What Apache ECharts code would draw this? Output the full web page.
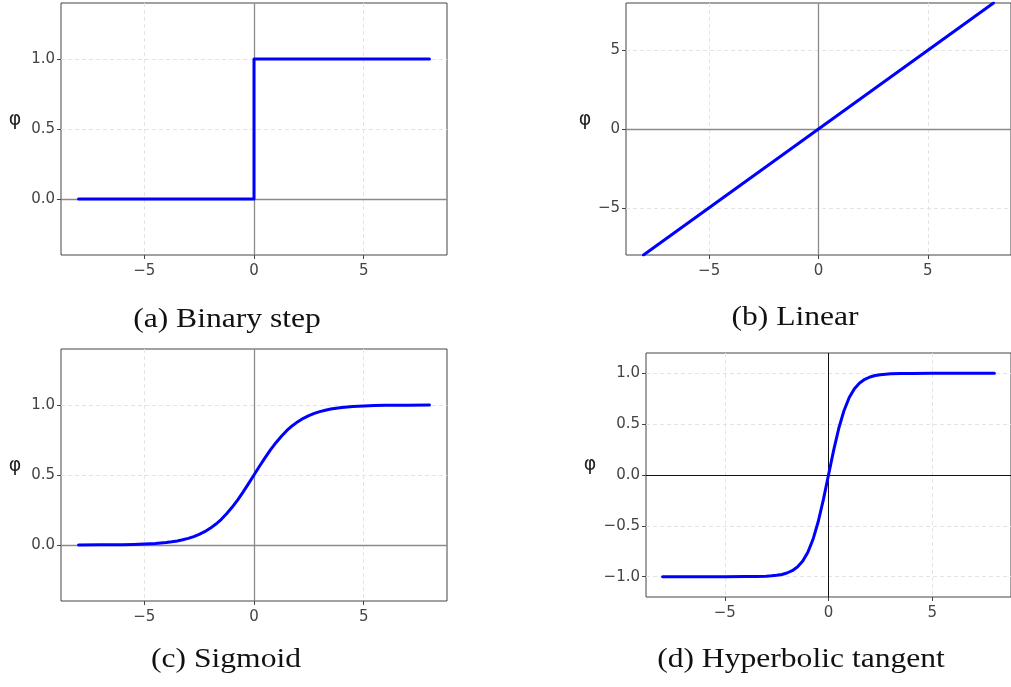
<!DOCTYPE html>
<html>
<head>
<meta charset="utf-8">
<script src="https://cdn.jsdelivr.net/npm/echarts@6/dist/echarts.min.js"></script>
<style>html,body{margin:0;padding:0;background:#fff;}#c{width:1011px;height:687px;}</style>
</head>
<body>
<div id="c"></div>
<script>
// ---- data ----
const stepX = [-8, 0, 0, 8];
const stepY = [0, 0, 1, 1];

const linearX = [-8, 8];
const linearY = [-8, 8];

const sigmoidX = [-8,-7,-6,-5.5,-5,-4.5,-4,-3.75,-3.5,-3.25,-3,-2.75,-2.5,-2.25,-2,-1.75,-1.5,-1.25,-1,-0.75,-0.5,-0.25,0,0.25,0.5,0.75,1,1.25,1.5,1.75,2,2.25,2.5,2.75,3,3.25,3.5,3.75,4,4.5,5,5.5,6,7,8];
const sigmoidY = [0.000,0.001,0.002,0.004,0.007,0.011,0.018,0.023,0.029,0.037,0.047,0.060,0.076,0.095,0.119,0.148,0.182,0.223,0.269,0.321,0.378,0.438,0.500,0.562,0.622,0.679,0.731,0.777,0.818,0.852,0.881,0.905,0.924,0.940,0.953,0.963,0.971,0.977,0.982,0.989,0.993,0.996,0.998,0.999,1.000];

const tanhX = [-8,-7,-6,-5,-4,-3.5,-3,-2.75,-2.5,-2.25,-2,-1.75,-1.5,-1.25,-1,-0.75,-0.5,-0.25,0,0.25,0.5,0.75,1,1.25,1.5,1.75,2,2.25,2.5,2.75,3,3.5,4,5,6,7,8];
const tanhY = [-1.000,-1.000,-1.000,-1.000,-0.999,-0.998,-0.995,-0.992,-0.987,-0.978,-0.964,-0.941,-0.905,-0.848,-0.762,-0.635,-0.462,-0.245,0,0.245,0.462,0.635,0.762,0.848,0.905,0.941,0.964,0.978,0.987,0.992,0.995,0.998,0.999,1.000,1.000,1.000,1.000];

const xTicks = [-5, 0, 5];
const yTicksUnit = [0, 0.5, 1];
const yTicksLinear = [-5, 0, 5];
const yTicksTanh = [-1, -0.5, 0, 0.5, 1];

const captions = ['(a) Binary step', '(b) Linear', '(c) Sigmoid', '(d) Hyperbolic tangent'];
const yLabel = 'φ';

// ---- chart ----
const chart = echarts.init(document.getElementById('c'), null, {renderer: 'canvas'});
const zip = (xs, ys) => xs.map((x, i) => [x, ys[i]]);
const minus = s => String(s).replace('-', '\u2212');

const grids = [
  {left: 61, top: 3, width: 386, height: 252},
  {left: 626, top: 3, width: 388, height: 252},
  {left: 61, top: 349, width: 386, height: 252},
  {left: 646, top: 353, width: 376, height: 244}
];
const yRanges = [[-0.4, 1.4], [-8, 8], [-0.4, 1.4], [-1.2, 1.2]];
const yTickSets = [yTicksUnit, yTicksLinear, yTicksUnit, yTicksTanh];
const yDecimals = [1, 0, 1, 1];
const zeroColor = ['#8a8a8a', '#8a8a8a', '#8a8a8a', '#111'];
const seriesData = [zip(stepX, stepY), zip(linearX, linearY), zip(sigmoidX, sigmoidY), zip(tanhX, tanhY)];

const tickFont = {fontFamily: 'DejaVu Sans', fontSize: 15, color: '#444'};
const gridLine = {show: true, lineStyle: {color: '#e4e4e4', type: [4, 3], width: 1}};

const capFont = '27px "Liberation Serif"';
const capScale = 1.17;
const capPos = [[227, 320], [795, 318], [226, 660], [801, 660]];
const phiPos = [[15, 120], [585, 120], [15, 466], [590, 465]];

const option = {
  animation: false,
  backgroundColor: '#fff',
  grid: grids.map(g => Object.assign({show: true, borderColor: '#444', borderWidth: 1, backgroundColor: 'transparent'}, g)),
  xAxis: grids.map((g, i) => ({
    type: 'value', gridIndex: i, min: -8.8, max: 8.8,
    axisLine: {show: false, onZero: false},
    axisTick: {show: true, length: 4, lineStyle: {color: '#444'}, customValues: xTicks},
    axisLabel: Object.assign({margin: 9, customValues: xTicks, formatter: v => minus(v)}, tickFont),
    splitLine: gridLine
  })),
  yAxis: grids.map((g, i) => ({
    type: 'value', gridIndex: i, min: yRanges[i][0], max: yRanges[i][1],
    axisLine: {show: false, onZero: false},
    axisTick: {show: true, length: 4, lineStyle: {color: '#444'}, customValues: yTickSets[i]},
    axisLabel: Object.assign({margin: 6, customValues: yTickSets[i], formatter: v => minus(Number(v).toFixed(yDecimals[i]))}, tickFont),
    splitLine: gridLine
  })),
  series: seriesData.map((d, i) => ({
    type: 'line', xAxisIndex: i, yAxisIndex: i, data: d,
    showSymbol: false, symbol: 'none',
    smooth: false,
    lineStyle: {color: '#0000ff', width: 3, join: 'round', cap: 'round'},
    z: 5,
    markLine: {
      silent: true, symbol: 'none', label: {show: false}, animation: false,
      lineStyle: {color: zeroColor[i], type: 'solid', width: i === 3 ? 1 : 1.3},
      z: 3,
      data: [{xAxis: 0}, {yAxis: 0}]
    }
  })),
  graphic: [].concat(
    captions.map((t, i) => ({
      type: 'text', x: capPos[i][0], y: capPos[i][1], scaleX: capScale,
      style: {text: t, font: capFont, fill: '#111', align: 'center', verticalAlign: 'middle'}
    })),
    phiPos.map(p => ({
      type: 'text', x: p[0], y: p[1],
      style: {text: yLabel, font: '19px "DejaVu Sans"', fill: '#222', align: 'center', verticalAlign: 'middle'}
    }))
  )
};
chart.setOption(option);
</script>
</body>
</html>
